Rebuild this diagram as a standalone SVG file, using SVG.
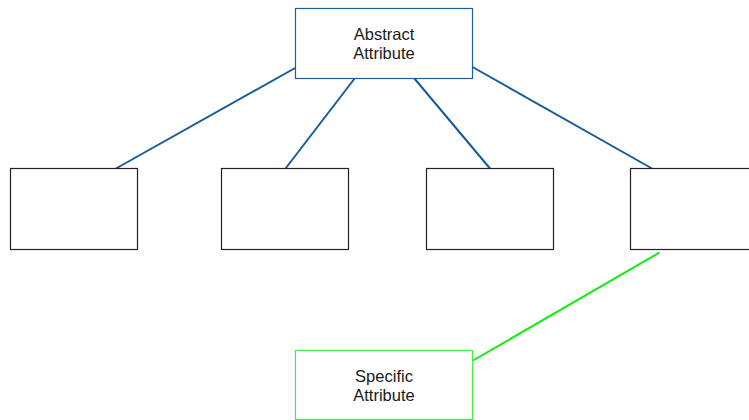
<svg xmlns="http://www.w3.org/2000/svg" width="749" height="420" viewBox="0 0 749 420">
<style>
.box{fill:#ffffff;stroke:#222222;stroke-width:1.2}
.abs{fill:#ffffff;stroke:#1b5e9c;stroke-width:1.2}
.spec{fill:#ffffff;stroke:#44ee44;stroke-width:1.2}
.blue{stroke:#175c9a;stroke-width:2;fill:none}
.green{stroke:#11ee11;stroke-width:2;fill:none}
text{font-family:"Liberation Sans",Arial,Helvetica,sans-serif;font-size:16.5px;fill:#1a1a1a;text-anchor:middle}
</style>
<rect width="749" height="420" fill="#ffffff"/>
<g id="connectors">
<line class="blue" x1="296" y1="67.5" x2="116" y2="168.5"/>
<line class="blue" x1="355" y1="78" x2="285.5" y2="168.5"/>
<line class="blue" x1="414" y1="78" x2="490" y2="168.5"/>
<line class="blue" x1="472.5" y1="67" x2="652" y2="168.5"/>
<line class="green" x1="659.5" y1="252.5" x2="473" y2="360.5"/>
</g>
<g id="abstract-attribute">
<rect class="abs" x="295.5" y="8.5" width="177" height="70"/>
<text x="384" y="39.5">Abstract</text>
<text x="384" y="59">Attribute</text>
</g>
<g id="box1"><rect class="box" x="10.5" y="168.5" width="127" height="81"/></g>
<g id="box2"><rect class="box" x="221.5" y="168.5" width="127" height="81"/></g>
<g id="box3"><rect class="box" x="426.5" y="168.5" width="127" height="81"/></g>
<g id="box4"><rect class="box" x="630.5" y="168.5" width="127" height="81"/></g>
<g id="specific-attribute">
<rect class="spec" x="295.5" y="350.5" width="177" height="69"/>
<text x="384" y="381.5">Specific</text>
<text x="384" y="401">Attribute</text>
</g>
</svg>
